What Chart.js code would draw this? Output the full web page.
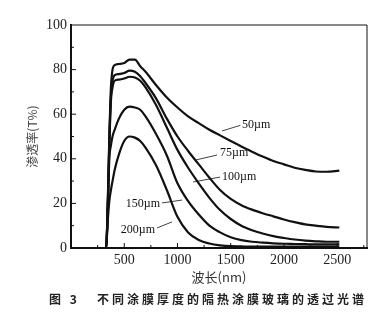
<!DOCTYPE html>
<html>
<head>
<meta charset="utf-8">
<script src="https://cdn.jsdelivr.net/npm/chart.js@4.4.1/dist/chart.umd.min.js"></script>
<style>
  html, body { margin: 0; padding: 0; background: #fff; }
  #wrap { width: 382px; height: 313px; }
</style>
</head>
<body>
<div id="wrap"><canvas id="spectrum" width="382" height="313"></canvas></div>
<script>
// wavelength (nm) and transmittance (%)
const wavelength = [25, 330, 345, 360, 375, 390, 410, 450, 500, 550, 600, 650, 700, 800, 900, 1000, 1100, 1200, 1300, 1400, 1500, 1600, 1700, 1800, 1900, 2000, 2100, 2200, 2300, 2400, 2520];
const t50  = [0, 0, 20, 50, 72, 80, 82, 82.5, 83, 84.5, 84.5, 81.5, 79, 73, 67.5, 63, 59, 56, 53, 50.5, 48, 45.5, 43.2, 41, 39, 37.5, 36, 35, 34.3, 34.2, 34.7];
const t75  = [0, 0, 19, 48, 68, 75, 77.5, 78, 78.5, 79.5, 79, 77, 74, 67, 58, 50, 43.5, 37.5, 31.5, 26, 22, 19.2, 17.2, 15.6, 14.2, 12.8, 11.6, 10.6, 10, 9.5, 9.2];
const t100 = [0, 0, 18, 46, 66, 72, 75, 75.5, 76, 76.8, 76.5, 75, 72, 64, 54, 44, 36, 29, 22.5, 17, 13, 10, 8, 6.5, 5.3, 4.5, 3.8, 3.3, 3, 2.8, 2.8];
const t150 = [0, 0, 17, 40, 46, 50, 53, 58, 62, 63.4, 63, 62, 59, 51, 41.5, 29, 21, 15, 10, 7, 4.8, 3.5, 2.8, 2.4, 2.1, 1.9, 1.8, 1.7, 1.6, 1.6, 1.6];
const t200 = [0, 0, 12, 21, 26, 30, 35, 42, 48, 50, 49.5, 48, 45, 37, 26, 14, 7, 3.6, 2, 1.2, 0.8, 0.7, 0.6, 0.6, 0.6, 0.6, 0.6, 0.6, 0.6, 0.6, 0.6];

const thickness = ["50µm", "75µm", "100µm", "150µm", "200µm"];
const xTicks = [500, 1000, 1500, 2000, 2500];
const yTicks = [0, 20, 40, 60, 80, 100];

// curve labels (data units): text anchor + leader line
const labelX = [1607, 1400, 1419, 836, 789];
const labelY = [55.2, 42.6, 31.8, 19.7, 8.1];
const labelAlign = ["left", "left", "left", "right", "right"];
const leaderX1 = [1419, 1175, 1147, 855, 808];
const leaderY1 = [52.5, 39.5, 29.6, 20.2, 9.0];
const leaderX2 = [1590, 1372, 1400, 1043, 949];
const leaderY2 = [55.0, 41.7, 31.8, 21.5, 11.7];

const caption = "图 3   不同涂膜厚度的隔热涂膜玻璃的透过光谱";

const ink = "#111";
const serif = "'Liberation Serif', 'DejaVu Serif', serif";
const cjk = "'Noto Sans CJK SC', 'Noto Sans', sans-serif";

const series = [t50, t75, t100, t150, t200];

const frameAndMarks = {
  id: "frameAndMarks",
  afterDatasetsDraw(chart) {
    const { ctx, chartArea: a, scales: { x, y } } = chart;
    ctx.save();
    ctx.strokeStyle = ink;
    ctx.lineWidth = 1;
    ctx.beginPath();
    ctx.moveTo(a.left, a.top);
    ctx.lineTo(a.right, a.top);
    ctx.lineTo(a.right, a.bottom);
    ctx.stroke();

    // inward ticks
    for (let v = 250; v <= 2750; v += 250) {
      const px = x.getPixelForValue(v);
      const len = v % 500 === 0 ? 5 : 3;
      ctx.beginPath();
      ctx.moveTo(px, a.bottom);
      ctx.lineTo(px, a.bottom - len);
      ctx.stroke();
    }
    for (let v = 10; v < 100; v += 10) {
      const py = y.getPixelForValue(v);
      const len = v % 20 === 0 ? 5 : 3;
      ctx.beginPath();
      ctx.moveTo(a.left, py);
      ctx.lineTo(a.left + len, py);
      ctx.stroke();
    }

    // curve labels
    ctx.font = "12px " + serif;
    ctx.fillStyle = ink;
    ctx.textBaseline = "middle";
    thickness.forEach((name, i) => {
      ctx.lineWidth = 0.8;
      ctx.beginPath();
      ctx.moveTo(x.getPixelForValue(leaderX1[i]), y.getPixelForValue(leaderY1[i]));
      ctx.lineTo(x.getPixelForValue(leaderX2[i]), y.getPixelForValue(leaderY2[i]));
      ctx.stroke();
      ctx.textAlign = labelAlign[i];
      ctx.fillText(name, x.getPixelForValue(labelX[i]), y.getPixelForValue(labelY[i]));
    });

    // figure caption
    ctx.font = "bold 12px " + cjk;
    ctx.letterSpacing = "3px";
    ctx.textAlign = "center";
    ctx.fillStyle = "#222";
    ctx.fillText(caption, 208, 299);
    ctx.restore();
  }
};

const ctx = document.getElementById("spectrum");

const spectrumChart = new Chart(ctx, {
  type: "line",
  data: {
    datasets: series.map((vals, i) => ({
      label: thickness[i],
      data: wavelength.map((w, k) => ({ x: w, y: vals[k] })),
      borderColor: ink,
      borderWidth: 2.2,
      pointRadius: 0,
      cubicInterpolationMode: "monotone",
      fill: false
    }))
  },
  options: {
    responsive: false,
    animation: false,
    layout: {
      padding: { left: 0, right: 15, top: 25, bottom: 25 }
    },
    plugins: {
      legend: { display: false },
      tooltip: { enabled: false }
    },
    scales: {
      x: {
        type: "linear",
        min: 0,
        max: 2780,
        afterBuildTicks: axis => {
          axis.ticks = xTicks.map(v => ({ value: v }));
        },
        afterFit: axis => {
          axis.height = 40;
        },
        grid: { display: false, drawTicks: false },
        border: { display: true, color: ink, width: 2 },
        ticks: {
          color: "#222",
          padding: 4,
          maxRotation: 0,
          callback: v => String(v),
          font: { family: serif, size: 14 }
        },
        title: {
          display: true,
          text: "波长(nm)",
          color: "#333",
          padding: { top: 0, bottom: 3 },
          font: { family: cjk, size: 13 }
        }
      },
      y: {
        min: 0,
        max: 100,
        afterBuildTicks: axis => {
          axis.ticks = yTicks.map(v => ({ value: v }));
        },
        afterFit: axis => {
          axis.width = 71;
        },
        grid: { display: false, drawTicks: false },
        border: { display: true, color: ink, width: 2 },
        ticks: {
          color: "#222",
          padding: 4,
          callback: v => String(v),
          font: { family: serif, size: 14 }
        },
        title: {
          display: true,
          text: "渗透率(T%)",
          color: "#444",
          padding: { top: 25, bottom: 0 },
          font: { family: cjk, size: 12 }
        }
      }
    }
  },
  plugins: [frameAndMarks]
});
</script>
</body>
</html>
